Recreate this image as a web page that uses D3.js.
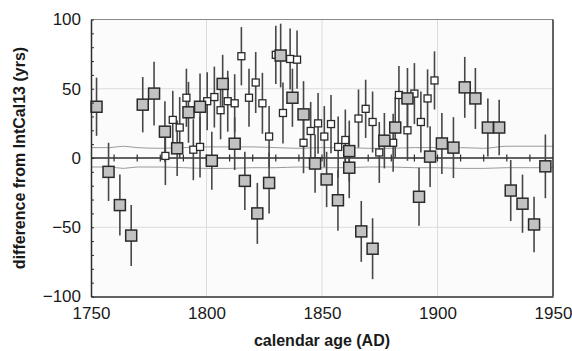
<!DOCTYPE html>
<html>
<head>
<meta charset="utf-8">
<script src="https://cdn.jsdelivr.net/npm/d3@7"></script>
<style>
    html, body { margin: 0; padding: 0; background: #ffffff; }
    svg { display: block; font-family: "Liberation Sans", Arial, Helvetica, sans-serif; }
</style>
</head>
<body>
<div id="chart"></div>
<script>
// large grey squares
const bigYear = [1752.4, 1757.6, 1762.5, 1767.4, 1772.4, 1777.3, 1782.0, 1787.3, 1792.2, 1797.2,
    1802.3, 1807.0, 1812.2, 1816.6, 1822.0, 1827.1, 1832.1, 1837.2, 1842.0, 1847.0,
    1852.0, 1856.9, 1861.8, 1861.8, 1867.0, 1871.9, 1877.0, 1881.7, 1887.0, 1892.0,
    1896.8, 1901.9, 1906.9, 1911.8, 1916.4, 1921.8, 1926.7, 1931.7, 1936.8, 1941.8, 1946.7];
const bigDiff = [37, -10, -34, -56, 38.5, 46.5, 19, 7, 33, 37,
    -2, 53.5, 10.3, -16.5, -40, -18, 74, 43.5, 31.5, -4,
    -15.5, -30.5, 5, -7, -53, -65.5, 12.5, 22, 43, -28,
    1, 10.5, 7.5, 51, 43, 22, 22, -23.5, -33, -48, -6];
const bigErr = [21, 21, 22, 22, 20, 23, 22, 20, 22, 24,
    21, 21, 19, 21, 22, 22, 23, 21, 24, 21,
    20, 22, 22, 22, 22, 22, 20, 22, 22, 21,
    22, 22, 22, 22, 22, 21, 20, 22, 21, 20, 23];

// small white squares
const smallYear = [1782.2, 1785.4, 1788.4, 1791.3, 1794.3, 1797.2, 1800.3, 1803.4, 1806.1, 1809.2,
    1812.2, 1815.1, 1818.4, 1821.3, 1824.2, 1827.1, 1830.0, 1833.1, 1836.2, 1839.2,
    1842.0, 1845.1, 1848.3, 1851.0, 1853.9, 1857.0, 1860.1, 1865.8, 1868.9, 1871.9,
    1874.8, 1880.8, 1883.3, 1887.0, 1890.0, 1892.8, 1895.7, 1898.7];
const smallDiff = [1.5, 27.5, 22, 43.5, 6, 8, 41, 44, 34.5, 41,
    39.5, 73.5, 43.5, 54.5, 39.5, 15.5, 74.5, 32.5, 71.5, 71,
    11, 19.5, 25, 15.5, 24.5, 8, 13, 28.5, 35.5, 26,
    4, 11, 45.5, 20, 46.5, 26, 43, 56];
const smallErr = [21, 21, 22, 21, 22, 22, 21, 22, 21, 22,
    21, 21, 21, 22, 22, 22, 21, 22, 22, 21,
    22, 21, 22, 22, 21, 22, 22, 21, 21, 22,
    22, 21, 21, 22, 22, 22, 21, 21];

// IntCal13 uncertainty envelope
const envYear = [1750, 1758, 1764, 1770, 1780, 1790, 1800, 1810, 1820, 1830, 1840,
    1850, 1860, 1870, 1880, 1890, 1900, 1910, 1920, 1930, 1940, 1950];
const envUpper = [7.5, 7.5, 8.5, 7.5, 7, 7.5, 8, 8, 8, 7.5, 7,
    7.5, 7.5, 7, 7, 7.5, 7.5, 7.5, 7, 8.5, 8.5, 8.5];
const envLower = [-6.5, -6.5, -7.5, -6.5, -6.5, -7, -7.5, -7.5, -7, -7, -6.5,
    -7, -7, -6.5, -6.5, -7, -7, -7.5, -7.5, -7, -7, -7];

const xTicks = [1750, 1800, 1850, 1900, 1950];
const yTicks = [-100, -50, 0, 50, 100];

const W = 572, H = 351;
const x = d3.scaleLinear().domain([1750, 1950]).range([91, 553]);
const y = d3.scaleLinear().domain([-100, 100]).range([296.5, 19.5]);

const svg = d3.select('#chart').append('svg')
    .attr('width', W)
    .attr('height', H);

// plot background
svg.append('rect')
    .attr('x', x(1750)).attr('y', y(100))
    .attr('width', x(1950) - x(1750))
    .attr('height', y(-100) - y(100))
    .attr('fill', '#fbfbfb');

// grid lines
svg.selectAll('.vgrid')
    .data([1800, 1850, 1900])
    .enter().append('line')
    .attr('x1', d => x(d)).attr('x2', d => x(d))
    .attr('y1', y(100)).attr('y2', y(-100))
    .attr('stroke', '#dcdcdc').attr('stroke-width', 1);

svg.selectAll('.hgrid')
    .data([50, -50])
    .enter().append('line')
    .attr('x1', x(1750)).attr('x2', x(1950))
    .attr('y1', d => y(d)).attr('y2', d => y(d))
    .attr('stroke', '#dcdcdc').attr('stroke-width', 1);

// envelope curves
const envData = envYear.map((yr, i) => ({ yr, up: envUpper[i], lo: envLower[i] }));
['up', 'lo'].forEach(key => {
    svg.append('path')
        .datum(envData)
        .attr('fill', 'none')
        .attr('stroke', '#9a9a9a')
        .attr('stroke-width', 1)
        .attr('d', d3.line().x(d => x(d.yr)).y(d => y(d[key])).curve(d3.curveMonotoneX));
});

// zero line with crossing ticks
svg.append('line')
    .attr('x1', x(1750)).attr('x2', x(1950))
    .attr('y1', y(0)).attr('y2', y(0))
    .attr('stroke', '#2e2e2e').attr('stroke-width', 1.5);

svg.selectAll('.ztick')
    .data(x.ticks(20).filter(d => d > 1750 && d < 1950))
    .enter().append('line')
    .attr('x1', d => x(d)).attr('x2', d => x(d))
    .attr('y1', y(0) - 3.5).attr('y2', y(0) + 3.5)
    .attr('stroke', '#2e2e2e').attr('stroke-width', 1.2);

// error bars
const big = bigYear.map((yr, i) => ({ yr, v: bigDiff[i], e: bigErr[i] }));
const small = smallYear.map((yr, i) => ({ yr, v: smallDiff[i], e: smallErr[i] }));

svg.selectAll('.ebar')
    .data(small.concat(big))
    .enter().append('line')
    .attr('x1', d => x(d.yr)).attr('x2', d => x(d.yr))
    .attr('y1', d => y(d.v + d.e)).attr('y2', d => y(d.v - d.e))
    .attr('stroke', '#474747').attr('stroke-width', 1.6);

// small white squares
const s1 = 7;
svg.selectAll('.small')
    .data(small)
    .enter().append('rect')
    .attr('x', d => x(d.yr) - s1 / 2)
    .attr('y', d => y(d.v) - s1 / 2)
    .attr('width', s1).attr('height', s1)
    .attr('fill', '#ffffff')
    .attr('stroke', '#2a2a2a').attr('stroke-width', 1.3);

// large grey squares
const s2 = 11;
svg.selectAll('.big')
    .data(big)
    .enter().append('rect')
    .attr('x', d => x(d.yr) - s2 / 2)
    .attr('y', d => y(d.v) - s2 / 2)
    .attr('width', s2).attr('height', s2)
    .attr('fill', '#c2c2c2')
    .attr('stroke', '#2a2a2a').attr('stroke-width', 1.5);

// frame
svg.append('line')
    .attr('x1', x(1750)).attr('x2', x(1950))
    .attr('y1', y(100)).attr('y2', y(100))
    .attr('stroke', '#8a8a8a').attr('stroke-width', 1);
svg.append('line')
    .attr('x1', x(1950)).attr('x2', x(1950))
    .attr('y1', y(100)).attr('y2', y(-100))
    .attr('stroke', '#2e2e2e').attr('stroke-width', 1.5);

// left axis: minor ticks inside, labels outside
const yMinor = svg.append('g')
    .attr('transform', `translate(${x(1750)},0)`)
    .call(d3.axisLeft(y).ticks(20).tickSizeInner(-3).tickSizeOuter(0).tickFormat(''));
yMinor.select('.domain').attr('stroke', '#2e2e2e').attr('stroke-width', 1.5);
yMinor.selectAll('.tick line').attr('stroke', '#2e2e2e').attr('stroke-width', 1);

const yLab = svg.append('g')
    .attr('transform', `translate(${x(1750)},0)`)
    .call(d3.axisLeft(y).tickValues(yTicks).tickSize(0).tickPadding(10).tickFormat(d3.format('d')));
yLab.select('.domain').remove();
yLab.selectAll('text')
    .attr('fill', '#1a1a1a')
    .style('font-size', '17px');

// bottom axis
const xAx = svg.append('g')
    .attr('transform', `translate(0,${y(-100)})`)
    .call(d3.axisBottom(x).tickValues(xTicks).tickSize(0).tickPadding(10).tickFormat(d3.format('d')));
xAx.select('.domain').attr('stroke', '#2e2e2e').attr('stroke-width', 1.5);
xAx.selectAll('text')
    .attr('fill', '#1a1a1a')
    .style('font-size', '17px');

// axis titles
svg.append('text')
    .attr('x', (x(1750) + x(1950)) / 2)
    .attr('y', 346)
    .attr('text-anchor', 'middle')
    .style('font-size', '16px')
    .style('font-weight', 'bold')
    .attr('fill', '#1a1a1a')
    .text('calendar age (AD)');

svg.append('text')
    .attr('transform', `translate(25,${(y(100) + y(-100)) / 2}) rotate(-90)`)
    .attr('text-anchor', 'middle')
    .style('font-size', '16px')
    .style('font-weight', 'bold')
    .attr('fill', '#1a1a1a')
    .text('difference from IntCal13 (yrs)');
</script>
</body>
</html>
